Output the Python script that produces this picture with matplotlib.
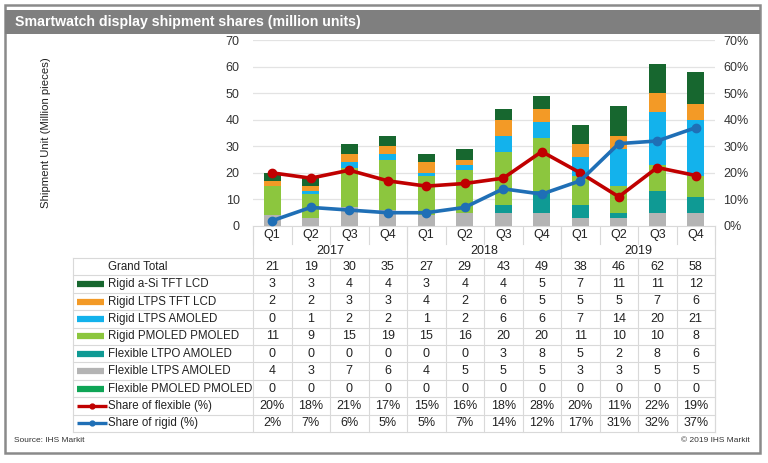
import matplotlib
matplotlib.use("Agg")
import matplotlib.pyplot as plt
from matplotlib.patches import Rectangle

plt.rcParams["font.family"] = ["Liberation Sans", "DejaVu Sans"]

# ── Data ───────────────────────────────────────────────────────
QUARTERS = ["Q1", "Q2", "Q3", "Q4"] * 3
YEARS = ["2017", "2018", "2019"]
GRAND_TOTAL = [21, 19, 30, 35, 27, 29, 43, 49, 38, 46, 62, 58]

rigid_asi_tft = [3, 3, 4, 4, 3, 4, 4, 5, 7, 11, 11, 12]
rigid_ltps_tft = [2, 2, 3, 3, 4, 2, 6, 5, 5, 5, 7, 6]
rigid_ltps_amoled = [0, 1, 2, 2, 1, 2, 6, 6, 7, 14, 20, 21]
rigid_pmoled = [11, 9, 15, 19, 15, 16, 20, 20, 11, 10, 10, 8]
flex_ltpo_amoled = [0, 0, 0, 0, 0, 0, 3, 8, 5, 2, 8, 6]
flex_ltps_amoled = [4, 3, 7, 6, 4, 5, 5, 5, 3, 3, 5, 5]
flex_pmoled = [0, 0, 0, 0, 0, 0, 0, 0, 0, 0, 0, 0]

share_flexible = [20, 18, 21, 17, 15, 16, 18, 28, 20, 11, 22, 19]
share_rigid = [2, 7, 6, 5, 5, 7, 14, 12, 17, 31, 32, 37]

# (label, values, colour) in table order
SERIES = [
    ("Rigid a-Si TFT LCD", rigid_asi_tft, "#17672f"),
    ("Rigid LTPS TFT LCD", rigid_ltps_tft, "#f39a26"),
    ("Rigid LTPS AMOLED", rigid_ltps_amoled, "#13b2ec"),
    ("Rigid PMOLED PMOLED", rigid_pmoled, "#8cc63e"),
    ("Flexible LTPO AMOLED", flex_ltpo_amoled, "#0f9a94"),
    ("Flexible LTPS AMOLED", flex_ltps_amoled, "#b4b4b4"),
    ("Flexible PMOLED PMOLED", flex_pmoled, "#0fa556"),
]
LINES = [
    ("Share of flexible (%)", share_flexible, "#c00000"),
    ("Share of rigid (%)", share_rigid, "#1f6fb6"),
]
# ───────────────────────────────────────────────────────────────

W, H = 768, 463
fig = plt.figure(figsize=(W / 100, H / 100), dpi=100)


def fx(px):
    return px / W


def fy(py):
    return 1 - py / H


# frame + title bar
fig.patches.append(Rectangle((fx(5), fy(453)), fx(755), 448 / H, transform=fig.transFigure,
                             fill=False, edgecolor="#8a8a8a", linewidth=1.8))
fig.patches.append(Rectangle((fx(5), fy(34)), fx(755), 24 / H, transform=fig.transFigure,
                             facecolor="#7f7f7f", edgecolor="none"))
fig.text(fx(15), fy(22), "Smartwatch display shipment shares (million units)",
         color="white", fontsize=10.2, fontweight="bold", va="center", ha="left")

# main chart
X0, X1, Y0, Y1 = 253, 715, 226, 40
ax = fig.add_axes([fx(X0), fy(Y0), fx(X1 - X0), (Y0 - Y1) / H])
n = len(GRAND_TOTAL)
xs = list(range(n))
bottom = [0] * n
for label, vals, color in reversed(SERIES):
    ax.bar(xs, vals, bottom=bottom, width=0.44, color=color, zorder=2)
    bottom = [b + v for b, v in zip(bottom, vals)]

ax.set_xlim(-0.5, n - 0.5)
ax.set_ylim(0, 70)
ax.set_yticks(range(0, 71, 10))
ax.grid(axis="y", color="#e3e3e3", linewidth=0.9, zorder=0)
ax.set_xticks([])
for s in ax.spines.values():
    s.set_visible(False)
ax.tick_params(axis="y", length=0, labelsize=9, colors="#333333", pad=9.5)
ax.set_ylabel("Shipment Unit (Million pieces)", fontsize=8.2, color="#222222")
ax.yaxis.set_label_coords(-(253 - 51) / (X1 - X0), 0.5)

ax2 = ax.twinx()
for label, vals, color in LINES:
    ax2.plot(xs, vals, color=color, linewidth=2.6, marker="o", markersize=6, zorder=3)
ax2.set_ylim(0, 70)
ax2.set_yticks(range(0, 71, 10))
ax2.set_yticklabels([f"{v}%" for v in range(0, 71, 10)])
ax2.tick_params(axis="y", length=0, labelsize=9, colors="#333333", pad=6)
for s in ax2.spines.values():
    s.set_visible(False)

# data table below the chart (pixel coordinates)
tab = fig.add_axes([0, 0, 1, 1], zorder=-1)
tab.set_xlim(0, W)
tab.set_ylim(H, 0)
tab.axis("off")
grid_c = "#d9d9d9"
col_w = (X1 - X0) / n
TL = 73
ROW0, ROW_H = 258, 17.4
nrows = 1 + len(SERIES) + len(LINES)
TB = ROW0 + nrows * ROW_H

# header: quarters and years
for i, q in enumerate(QUARTERS):
    cx = X0 + (i + 0.5) * col_w
    tab.text(cx, 235, q, ha="center", va="center", fontsize=9, color="#222222")
for i in range(n + 1):
    x = X0 + i * col_w
    tab.plot([x, x], [Y0, 244], color=grid_c, linewidth=0.8)
for j, yr in enumerate(YEARS):
    cx = X0 + (j * 4 + 2) * col_w
    tab.text(cx, 251, yr, ha="center", va="center", fontsize=9, color="#222222")
    x = X0 + j * 4 * col_w
    tab.plot([x, x], [Y0, ROW0], color=grid_c, linewidth=0.8)
tab.plot([X1, X1], [Y0, TB], color=grid_c, linewidth=0.8)
tab.plot([X0, X1], [Y0, Y0], color=grid_c, linewidth=0.8)

# body rows
for r in range(nrows + 1):
    y = ROW0 + r * ROW_H
    tab.plot([TL, X1], [y, y], color=grid_c, linewidth=0.8)
tab.plot([TL, TL], [ROW0, TB], color=grid_c, linewidth=0.8)
for i in range(n + 1):
    x = X0 + i * col_w
    tab.plot([x, x], [ROW0, TB], color=grid_c, linewidth=0.8)

rows = [("Grand Total", GRAND_TOTAL, None, None)]
rows += [(lab, vals, col, "bar") for lab, vals, col in SERIES]
rows += [(lab, vals, col, "line") for lab, vals, col in LINES]
for r, (lab, vals, col, kind) in enumerate(rows):
    cy = ROW0 + (r + 0.5) * ROW_H
    tab.text(108, cy, lab, ha="left", va="center", fontsize=8.3, color="#222222")
    if kind == "bar":
        tab.plot([77, 104], [cy, cy], color=col, linewidth=4.5, solid_capstyle="butt")
    elif kind == "line":
        tab.plot([77, 107], [cy, cy], color=col, linewidth=2.4, solid_capstyle="butt")
        tab.plot([92], [cy], marker="o", markersize=3.5, color=col)
    for i, v in enumerate(vals):
        cx = X0 + (i + 0.5) * col_w
        txt = f"{v}%" if kind == "line" else f"{v}"
        tab.text(cx, cy, txt, ha="center", va="center", fontsize=9, color="#222222")

fig.text(fx(14), fy(441), "Source: IHS Markit", fontsize=6, color="#333333", va="center")
fig.text(fx(750), fy(441), "\u00a9 2019 IHS Markit", fontsize=6, color="#333333",
         va="center", ha="right")

fig.savefig("out.png", dpi=100)
